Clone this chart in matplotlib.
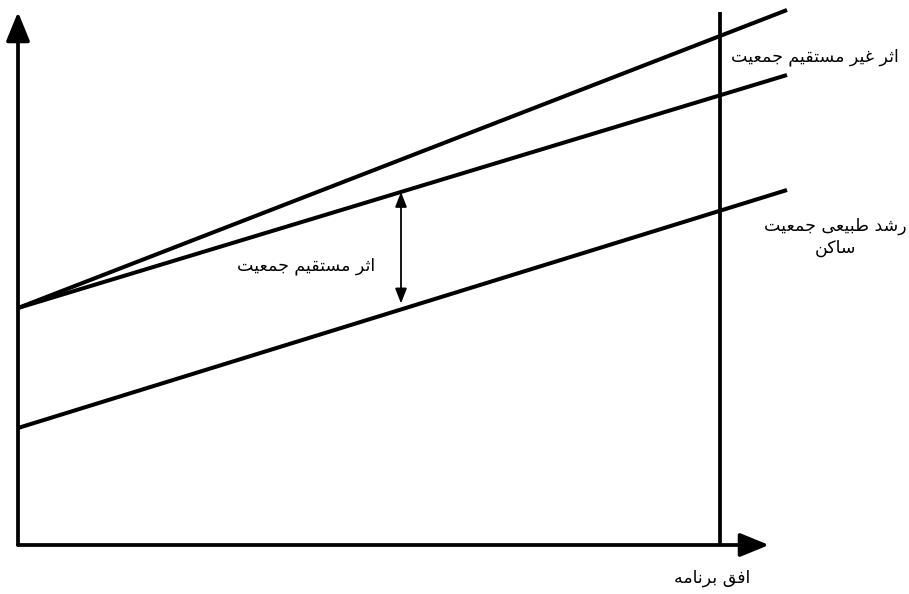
import matplotlib
matplotlib.use("Agg")
import matplotlib.pyplot as plt

# ---------------- data (chart units: x = time, y = population) ----------------
x_range = [0, 769]                 # start and end of the projection lines
line_indirect = [237, 535]         # اثر غیر مستقیم جمعیت (top line)
line_direct = [237, 470]           # line including direct effect
line_natural = [117, 355]          # رشد طبیعی جمعیت ساکن
horizon_x = 702                    # افق برنامه
direct_arrow_x = 383               # position of the double arrow

label_indirect = "اثر غیر مستقیم جمعیت"
label_natural = "رشد طبیعی جمعیت\nساکن"
label_direct = "اثر مستقیم جمعیت"
label_horizon = "افق برنامه"

# ---------------- minimal Persian shaping for display ----------------
FORMS = {  # isolated, final, initial, medial
    'ا': ('\uFE8D', '\uFE8E', None, None),
    'د': ('\uFEA9', '\uFEAA', None, None),
    'ر': ('\uFEAD', '\uFEAE', None, None),
    'ب': ('\uFE8F', '\uFE90', '\uFE91', '\uFE92'),
    'ت': ('\uFE95', '\uFE96', '\uFE97', '\uFE98'),
    'ث': ('\uFE99', '\uFE9A', '\uFE9B', '\uFE9C'),
    'ج': ('\uFE9D', '\uFE9E', '\uFE9F', '\uFEA0'),
    'س': ('\uFEB1', '\uFEB2', '\uFEB3', '\uFEB4'),
    'ش': ('\uFEB5', '\uFEB6', '\uFEB7', '\uFEB8'),
    'ط': ('\uFEC1', '\uFEC2', '\uFEC3', '\uFEC4'),
    'ع': ('\uFEC9', '\uFECA', '\uFECB', '\uFECC'),
    'غ': ('\uFECD', '\uFECE', '\uFECF', '\uFED0'),
    'ف': ('\uFED1', '\uFED2', '\uFED3', '\uFED4'),
    'ق': ('\uFED5', '\uFED6', '\uFED7', '\uFED8'),
    'ک': ('\uFB8E', '\uFB8F', '\uFB90', '\uFB91'),
    'م': ('\uFEE1', '\uFEE2', '\uFEE3', '\uFEE4'),
    'ن': ('\uFEE5', '\uFEE6', '\uFEE7', '\uFEE8'),
    'ه': ('\uFEE9', '\uFEEA', '\uFEEB', '\uFEEC'),
    'ی': ('\uFBFC', '\uFBFD', '\uFBFE', '\uFBFF'),
}


def shape_line(s):
    out = []
    n = len(s)
    for i, ch in enumerate(s):
        if ch not in FORMS:
            out.append(ch)
            continue
        prev = s[i - 1] if i > 0 else None
        nxt = s[i + 1] if i < n - 1 else None
        join_prev = prev in FORMS and FORMS[prev][2] is not None
        join_next = FORMS[ch][2] is not None and nxt in FORMS
        iso, fin, ini, med = FORMS[ch]
        if join_prev and join_next:
            out.append(med)
        elif join_prev:
            out.append(fin)
        elif join_next:
            out.append(ini)
        else:
            out.append(iso)
    return ''.join(reversed(out))


def fa(s):
    return '\n'.join(shape_line(line) for line in s.split('\n'))


# ---------------- figure ----------------
fig = plt.figure(figsize=(9.09, 5.94), dpi=100)
ax = fig.add_axes([0, 0, 1, 1])
ax.set_xlim(-18, 891)
ax.set_ylim(-49, 545)
ax.axis('off')

lw = 2.9
ax.plot(x_range, line_indirect, color='black', lw=lw, solid_capstyle='butt')
ax.plot(x_range, line_direct, color='black', lw=lw, solid_capstyle='butt')
ax.plot(x_range, line_natural, color='black', lw=lw, solid_capstyle='butt')
ax.plot([horizon_x, horizon_x], [0, 533], color='black', lw=2.7, solid_capstyle='butt')

# axes arrows
axis_style = dict(arrowstyle='-|>,head_length=1.1,head_width=0.45', color='black',
                  lw=2.7, mutation_scale=16, shrinkA=0, shrinkB=0)
ax.annotate('', xy=(0, 533), xytext=(0, 0), arrowprops=axis_style)
ax.annotate('', xy=(751, 0), xytext=(0, 0), arrowprops=axis_style)

# double arrow for the direct effect
t = (direct_arrow_x - x_range[0]) / (x_range[1] - x_range[0])
y_top = line_direct[0] + t * (line_direct[1] - line_direct[0])
y_bot = line_natural[0] + t * (line_natural[1] - line_natural[0])
ax.annotate('', xy=(direct_arrow_x, y_top), xytext=(direct_arrow_x, y_bot + 6),
            arrowprops=dict(arrowstyle='<|-|>,head_length=0.9,head_width=0.35', color='black',
                            lw=1.3, mutation_scale=10, shrinkA=0, shrinkB=0))

font = dict(family=['DejaVu Sans'], fontsize=12.5, color='black')
ax.text(881, 488, fa(label_indirect), ha='right', va='center', **font)
ax.text(817, 308, fa(label_natural), ha='center', va='center', multialignment='center',
        linespacing=1.2, **font)
ax.text(357, 279, fa(label_direct), ha='right', va='center', **font)
ax.text(694, -33, fa(label_horizon), ha='center', va='center', **font)

fig.savefig('out.png', dpi=100)
